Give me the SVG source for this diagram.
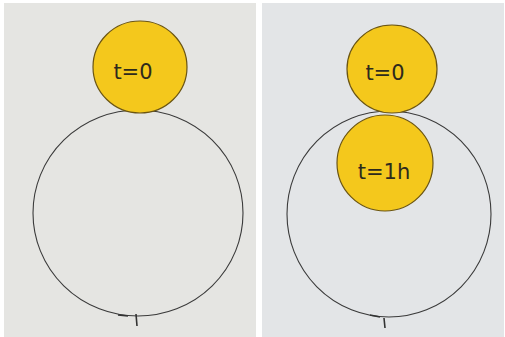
<svg xmlns="http://www.w3.org/2000/svg" width="505" height="337" viewBox="0 0 505 337">
<defs>
<style>
.paper{stroke:none}
.disc{fill:#f4c81c;stroke:#6b5512;stroke-width:1.2}
.orbit{fill:none;stroke:#3a3a3a;stroke-width:1.1}
.lbl{font-family:"DejaVu Sans","Liberation Sans",sans-serif;font-size:21px;fill:#2e2a1c;text-anchor:middle}
.tick{stroke:#333;stroke-width:1.6;fill:none}
</style>
</defs>
<rect width="505" height="337" fill="#ffffff"/>
<rect class="paper" x="4" y="3" width="252" height="334" fill="#e5e5e2"/>
<rect class="paper" x="262" y="3" width="242" height="334" fill="#e3e5e7"/>
<g id="left-panel">
<ellipse class="orbit" cx="138" cy="213" rx="105" ry="103"/>
<path class="tick" d="M118 315 L128 316 M136 314 L137 326"/>
<g id="left-t0">
<ellipse class="disc" cx="140" cy="67" rx="47" ry="46"/>
<text class="lbl" x="133" y="79">t=0</text>
</g>
</g>
<g id="right-panel">
<ellipse class="orbit" cx="389" cy="214" rx="102" ry="103"/>
<path class="tick" d="M370 315 L380 317 M384 318 L385 328"/>
<g id="right-t0">
<ellipse class="disc" cx="392" cy="69" rx="45" ry="44"/>
<text class="lbl" x="385" y="80">t=0</text>
</g>
<g id="right-t1h">
<ellipse class="disc" cx="385" cy="163" rx="48" ry="48"/>
<text class="lbl" x="384" y="179">t=1h</text>
</g>
</g>
<g id="connectors"/>
</svg>
